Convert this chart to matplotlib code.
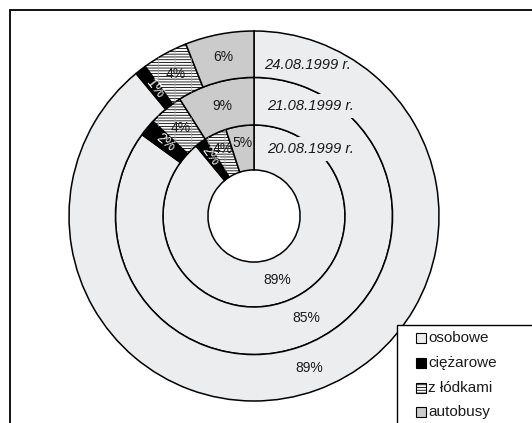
import matplotlib
matplotlib.use("Agg")
import numpy as np
import matplotlib.pyplot as plt
from matplotlib.patches import Rectangle, Wedge

# ---- data -------------------------------------------------------------
categories = ["osobowe", "ciężarowe", "z łódkami", "autobusy"]
dates = ["20.08.1999 r.", "21.08.1999 r.", "24.08.1999 r."]   # inner -> outer
share_20 = [89, 2, 4, 5]
share_21 = [85, 2, 4, 9]
share_24 = [89, 1, 4, 6]

# ---- styling ----------------------------------------------------------
colors = ["#ECEDEF", "#000000", "#FFFFFF", "#CBCBCB"]
plt.rcParams["font.family"] = ["Liberation Sans", "DejaVu Sans"]
plt.rcParams["hatch.linewidth"] = 0.6

W, H = 532, 423
fig = plt.figure(figsize=(W / 100, H / 100), dpi=100)
fig.patch.set_facecolor("white")

# donut geometry (pixels)
cx, cy, R = 254, 216, 185
lim = 1.1
ax = fig.add_axes([(cx - lim * R) / W, (H - cy - lim * R) / H,
                   2 * lim * R / W, 2 * lim * R / H])

rings = [
    (share_20, 0.492, 0.243),
    (share_21, 0.749, 0.257),
    (share_24, 1.000, 0.251),
]

for values, radius, width in rings:
    wedges, _ = ax.pie(values, radius=radius, colors=colors,
                       startangle=90, counterclock=False,
                       wedgeprops=dict(width=width, edgecolor="black",
                                       linewidth=1.1))
    # horizontal hatching for the boat-trailer category
    wz = wedges[2]
    wz.set_hatch("------")
    wz.set_edgecolor("black")
    # faint vertical lines in the same slice
    ax.add_patch(Wedge(wz.center, wz.r, wz.theta1, wz.theta2, width=wz.width,
                       facecolor="none", edgecolor="#a8a8a8", hatch="|",
                       linewidth=0, zorder=wz.get_zorder() + 0.1))

    # percentage labels
    total = float(sum(values))
    mid_r = radius - width / 2
    start = 0.0
    for i, v in enumerate(values):
        frac = v / total
        theta = 90 - 360 * (start + frac / 2)
        start += frac
        th = np.deg2rad(theta)
        r_lab = mid_r
        if i != 0 and radius < 0.6:
            r_lab = mid_r + 0.03
        x, y = r_lab * np.cos(th), r_lab * np.sin(th)
        if i == 1:
            ang = (theta % 360) - 180
            ax.text(x, y, f"{v}%", color="white", fontsize=10,
                    ha="center", va="center", rotation=ang,
                    rotation_mode="anchor", zorder=5)
        else:
            ax.text(x, y, f"{v}%", color="#1a1a1a", fontsize=10,
                    ha="center", va="center", zorder=5)

# ring captions (date of count)
cap_pos = [(0.070, 0.362, True), (0.070, 0.594, True), (0.054, 0.818, False)]
for label, (x, y, boxed) in zip(dates, cap_pos):
    kw = {}
    if boxed:
        kw["bbox"] = dict(boxstyle="square,pad=0.33", facecolor=colors[0],
                          edgecolor="none")
    ax.text(x, y, label, fontsize=10.6, style="italic", color="#1a1a1a",
            ha="left", va="center", zorder=4, **kw)

ax.set_xlim(-lim, lim)
ax.set_ylim(-lim, lim)
ax.set_aspect("equal")
ax.axis("off")


def fx(px):
    return px / W


def fy(py):
    return (H - py) / H


# outer chart frame (runs past the right and bottom edges)
fig.patches.append(Rectangle((fx(9.5), fy(440)), fx(560), fy(10.5) - fy(440),
                             transform=fig.transFigure, facecolor="none",
                             edgecolor="black", linewidth=1.3, zorder=0))

# legend box
fig.patches.append(Rectangle((fx(396.5), fy(440)), fx(200), fy(325) - fy(440),
                             transform=fig.transFigure, facecolor="white",
                             edgecolor="black", linewidth=1.0, zorder=10))
rows = [338, 363, 388, 412]
for name, col, row, idx in zip(categories, colors, rows, range(4)):
    sq = Rectangle((fx(416), fy(row + 5)), fx(10), fy(row - 5) - fy(row + 5),
                   transform=fig.transFigure, facecolor=col,
                   edgecolor="black", linewidth=0.8, zorder=11)
    if idx == 2:
        sq.set_hatch("------")
    fig.patches.append(sq)
    fig.text(fx(428), fy(row), name, fontsize=11, color="#1a1a1a",
             ha="left", va="center", zorder=12)

fig.savefig("out.png", dpi=100)
